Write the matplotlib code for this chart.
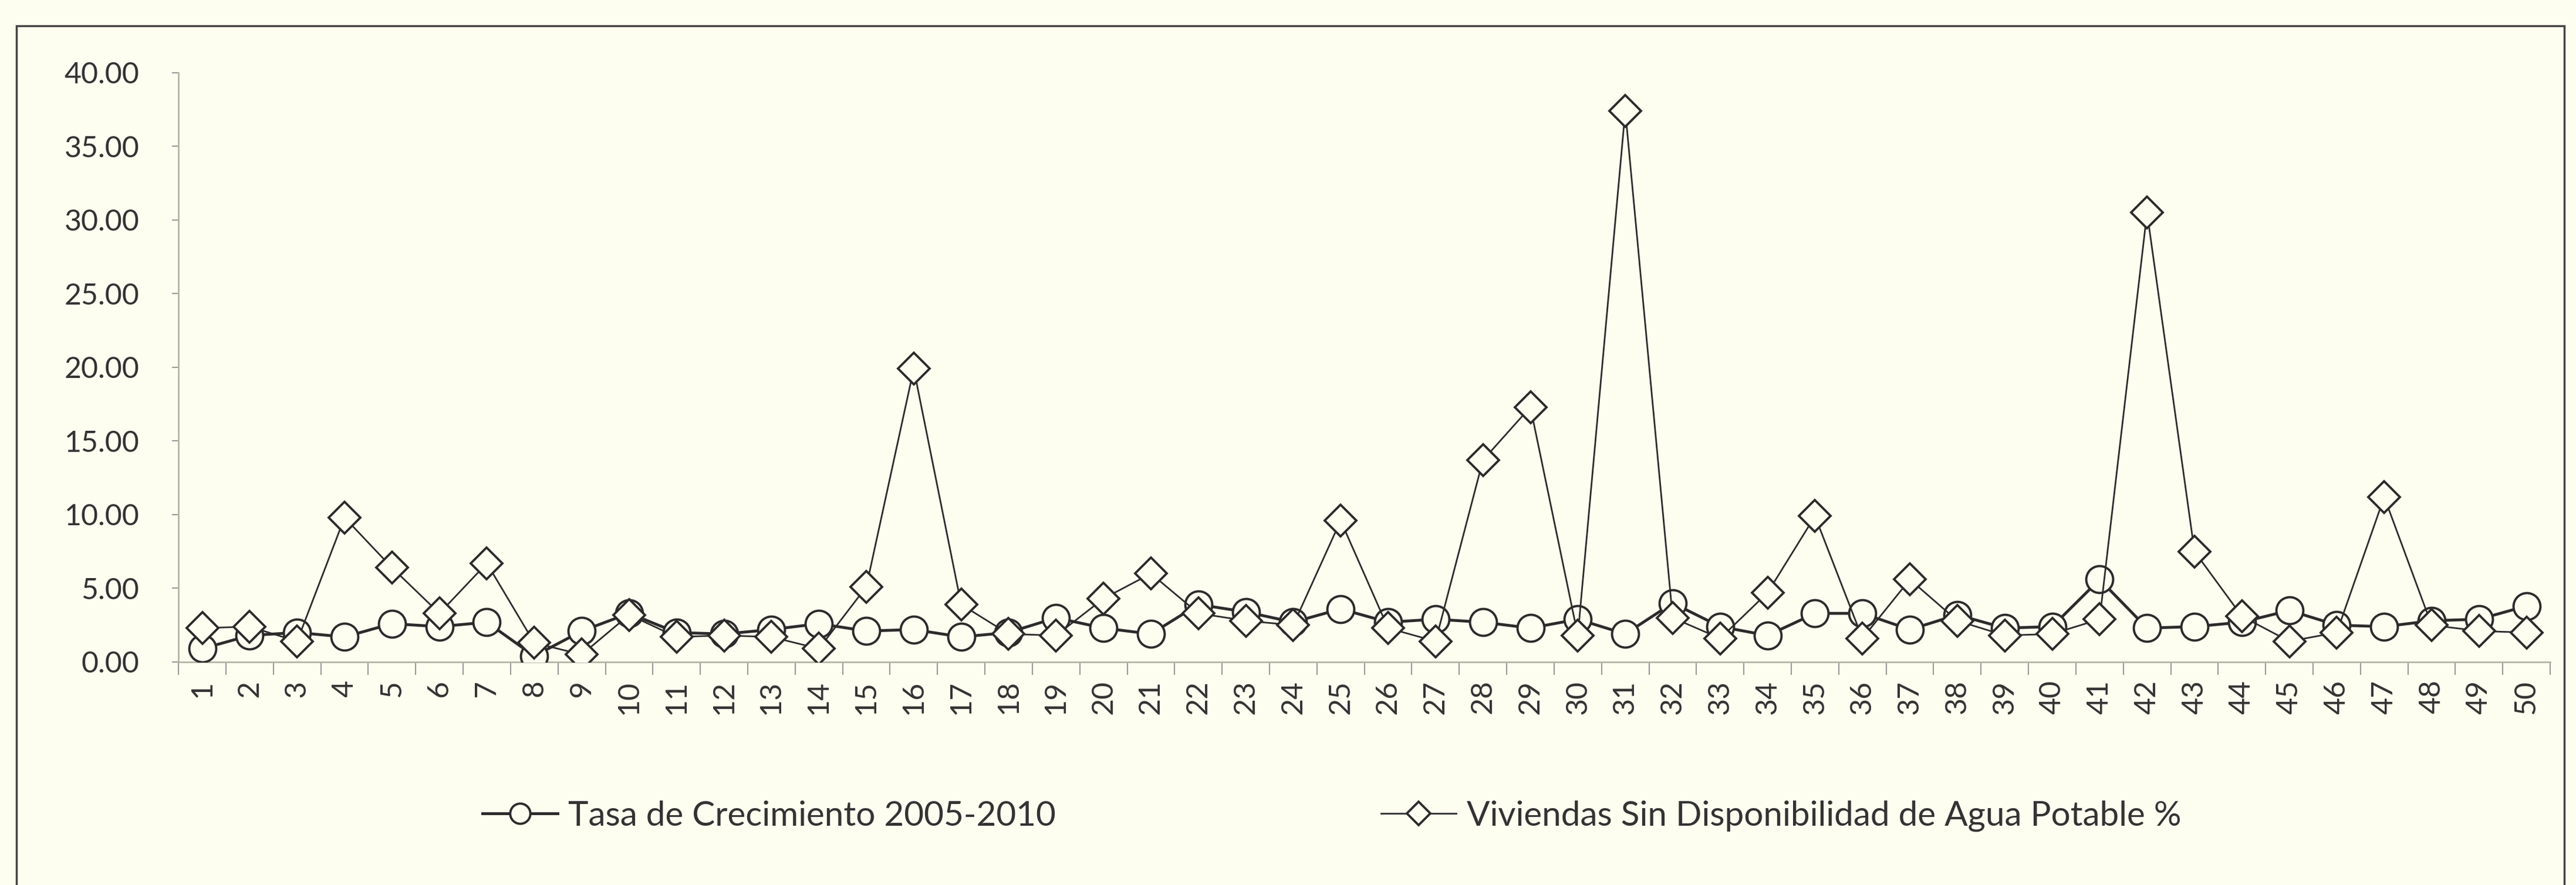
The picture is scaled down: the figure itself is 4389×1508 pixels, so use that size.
import matplotlib
matplotlib.use('Agg')
import matplotlib.pyplot as plt
from matplotlib.patches import Rectangle
from matplotlib.ticker import FormatStrFormatter

# datos
municipios = list(range(1, 51))
tasa = [0.9, 1.8, 2.0, 1.7, 2.6, 2.4, 2.7, 0.4, 2.1, 3.3,
        2.0, 1.9, 2.2, 2.6, 2.1, 2.2, 1.7, 2.0, 3.0, 2.3,
        1.9, 3.9, 3.4, 2.7, 3.6, 2.7, 2.9, 2.7, 2.3, 2.9,
        1.9, 4.0, 2.4, 1.8, 3.3, 3.3, 2.2, 3.2, 2.3, 2.4,
        5.6, 2.3, 2.4, 2.7, 3.5, 2.5, 2.4, 2.8, 2.9, 3.8]
viviendas = [2.3, 2.4, 1.4, 9.8, 6.4, 3.3, 6.7, 1.3, 0.5, 3.2,
             1.7, 1.8, 1.7, 0.9, 5.1, 19.9, 3.9, 1.9, 1.8, 4.3,
             6.0, 3.3, 2.8, 2.5, 9.6, 2.3, 1.4, 13.7, 17.3, 1.8,
             37.4, 3.0, 1.6, 4.7, 9.9, 1.6, 5.6, 2.8, 1.8, 1.9,
             2.9, 30.5, 7.5, 3.1, 1.4, 2.0, 11.2, 2.5, 2.1, 2.0]
etiquetas = [str(m) for m in municipios]

plt.rcParams['font.family'] = ['Lato', 'DejaVu Sans']
fondo = '#fdfdf0'

fig = plt.figure(figsize=(43.89, 15.08), dpi=100, facecolor=fondo)
ax = fig.add_axes([0.0693, 0.252, 0.9207, 0.666])
ax.set_facecolor(fondo)

x = list(range(len(municipios)))
ax.plot(x, tasa, color='#2b2b2b', lw=3.5, marker='o', markersize=33,
        markerfacecolor=fondo, markeredgecolor='#2b2b2b', markeredgewidth=2.8,
        label='Tasa de Crecimiento 2005-2010', zorder=3)
ax.plot(x, viviendas, color='#2b2b2b', lw=2, marker='D', markersize=27,
        markerfacecolor=fondo, markeredgecolor='#2b2b2b', markeredgewidth=2.8,
        label='Viviendas Sin Disponibilidad de Agua Potable %', zorder=4)

ax.set_xlim(-0.5, len(municipios) - 0.5)
ax.set_ylim(0, 40)
ax.set_yticks(range(0, 41, 5))
ax.yaxis.set_major_formatter(FormatStrFormatter('%.2f'))
ax.set_xticks(x)
ax.set_xticklabels(etiquetas, rotation=90)
# marcas del eje x entre categorias
ax.set_xticks([i - 0.5 for i in range(len(municipios) + 1)], minor=True)
ax.tick_params(axis='x', which='major', length=0, pad=22, labelsize=36, labelcolor='#333333')
ax.tick_params(axis='x', which='minor', length=16, width=1.5, color='#999999')
ax.tick_params(axis='y', length=8, width=1.5, color='#999999', pad=40, labelsize=36, labelcolor='#333333')

for s in ['top', 'right']:
    ax.spines[s].set_visible(False)
for s in ['left', 'bottom']:
    ax.spines[s].set_color('#b5b5a5')
    ax.spines[s].set_linewidth(2)

fig.legend(loc='center', bbox_to_anchor=(0.517, 0.078), ncol=2, frameon=False,
           fontsize=42, handlelength=2.2, columnspacing=9.5, handletextpad=0.3,
           markerscale=0.75, labelcolor='#333333')

# marco exterior
fig.patches.append(Rectangle((0.0064, -0.1), 0.989, 1.071, transform=fig.transFigure,
                             fill=False, edgecolor='#444444', lw=2.5))

fig.savefig('out.png', dpi=100, facecolor=fondo)
